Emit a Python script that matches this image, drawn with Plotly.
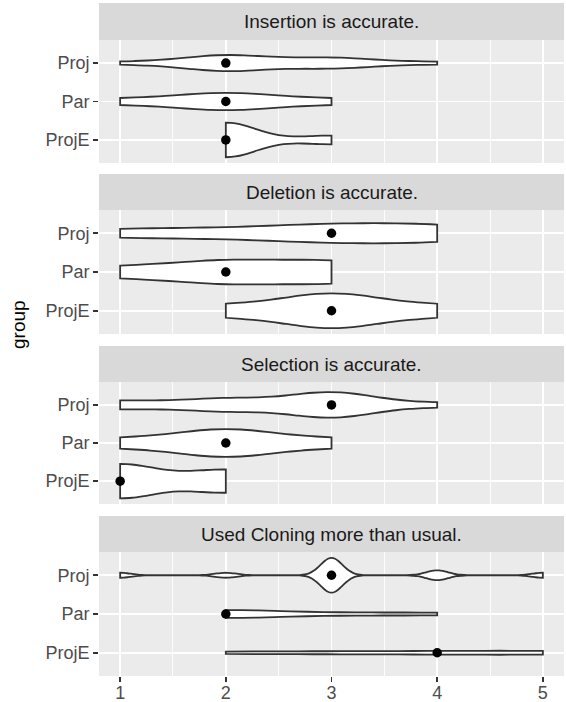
import numpy as np
import plotly.graph_objects as go

# ---------------- data ----------------
questions = [
    "Insertion is accurate.",
    "Deletion is accurate.",
    "Selection is accurate.",
    "Used Cloning more than usual.",
]
groups = ["Proj", "Par", "ProjE"]
levels = [1, 2, 3, 4, 5]
# number of responses at each Likert level (1..5), one row per question
proj_counts = [[1, 6, 4, 1, 0], [2, 2, 4, 4, 0], [2, 3, 6, 1, 0], [1, 1, 7, 2, 1]]
par_counts = [[1, 3, 1, 0, 0], [1, 2, 2, 0, 0], [1, 3, 1, 0, 0], [0, 3, 1, 1, 0]]
proje_counts = [[0, 4, 1, 0, 0], [0, 1, 3, 1, 0], [3, 2, 0, 0, 0], [0, 1, 1, 1, 2]]
x_ticks = [1, 2, 3, 4, 5]

counts_by_group = {"Proj": proj_counts, "Par": par_counts, "ProjE": proje_counts}


def expand(counts):
    return np.repeat(np.array(levels, dtype=float), counts)


def bw_nrd0(x):
    hi = np.std(x, ddof=1)
    q75, q25 = np.percentile(x, [75, 25])
    lo = min(hi, (q75 - q25) / 1.34)
    if not lo:
        lo = hi or abs(x[0]) or 1.0
    return 0.9 * lo * len(x) ** -0.2


# ---------------- layout geometry (pixels) ----------------
W, H = 566, 702
px_left, px_right = 99, 564
panels = [(40, 163), (210, 334), (382, 504), (552, 676)]
strips = [(3, 40), (174, 210), (346, 382), (516, 552)]


def fx(p):
    return p / W


def fy(p):
    return 1 - p / H


FONT = "Liberation Sans, Arial, Helvetica, sans-serif"
fig = go.Figure()

for i, q in enumerate(questions):
    xa = "x" if i == 0 else f"x{i+1}"
    ya = "y" if i == 0 else f"y{i+1}"
    for g in groups:
        vals = expand(counts_by_group[g][i])
        fig.add_trace(go.Violin(
            x=vals, y=[g] * len(vals), orientation="h",
            xaxis=xa, yaxis=ya,
            spanmode="hard", bandwidth=bw_nrd0(vals),
            scalemode="width", scalegroup=f"panel{i}",
            fillcolor="white", line=dict(color="#333333", width=1.8),
            points=False, box_visible=False, meanline_visible=False,
            showlegend=False, hoverinfo="skip",
        ))
    for g in groups:
        vals = expand(counts_by_group[g][i])
        fig.add_trace(go.Scatter(
            x=[float(np.median(vals))], y=[g], mode="markers",
            xaxis=xa, yaxis=ya,
            marker=dict(color="black", size=9.5, line=dict(width=0)),
            showlegend=False, hoverinfo="skip",
        ))

layout = dict(
    width=W, height=H,
    margin=dict(l=0, r=0, t=0, b=0),
    paper_bgcolor="white", plot_bgcolor="#EBEBEB",
    violinmode="overlay", violingap=0.1, violingroupgap=0,
    font=dict(family=FONT, size=18, color="#4D4D4D"),
    shapes=[], annotations=[],
)

for i, (top, bot) in enumerate(panels):
    sx = "" if i == 0 else str(i + 1)
    last = i == len(panels) - 1
    layout[f"xaxis{sx}"] = dict(
        domain=[fx(px_left), fx(px_right)], range=[0.8, 5.2],
        anchor=f"y{sx}", tickvals=x_ticks,
        showgrid=True, gridcolor="white", gridwidth=1.8,
        minor=dict(tickvals=[1.5, 2.5, 3.5, 4.5], showgrid=True,
                   gridcolor="white", gridwidth=0.9),
        zeroline=False, showline=False,
        showticklabels=last, ticks="outside" if last else "",
        ticklen=5, tickwidth=1.6, tickcolor="#333333",
        ticklabelstandoff=-5,
        tickfont=dict(family=FONT, size=18, color="#4D4D4D"),
        automargin=False, fixedrange=True,
    )
    layout[f"yaxis{sx}"] = dict(
        domain=[fy(bot), fy(top)], anchor=f"x{sx}",
        type="category", categoryorder="array",
        categoryarray=groups[::-1], range=[-0.6, 2.6],
        showgrid=True, gridcolor="white", gridwidth=1.8,
        zeroline=False, showline=False,
        ticks="outside", ticklen=5, tickwidth=1.6, tickcolor="#333333",
        tickfont=dict(family=FONT, size=18, color="#4D4D4D"),
        automargin=False, fixedrange=True,
    )

for i, (top, bot) in enumerate(strips):
    layout["shapes"].append(dict(
        type="rect", xref="paper", yref="paper",
        x0=fx(px_left), x1=fx(px_right), y0=fy(bot), y1=fy(top),
        fillcolor="#D9D9D9", line=dict(width=0), layer="below",
    ))
    layout["annotations"].append(dict(
        text=questions[i], xref="paper", yref="paper",
        x=fx((px_left + px_right) / 2), y=fy((top + bot) / 2),
        xanchor="center", yanchor="middle", showarrow=False,
        font=dict(family=FONT, size=19, color="#1A1A1A"),
    ))

layout["annotations"].append(dict(
    text="group", xref="paper", yref="paper",
    x=fx(18), y=fy(325), xanchor="center", yanchor="middle",
    textangle=-90, showarrow=False,
    font=dict(family=FONT, size=19, color="black"),
))

fig.update_layout(**layout)
fig.write_html(
    "out.html",
    config={"displayModeBar": False, "staticPlot": True},
    post_script="document.body.style.margin='0';document.body.style.overflow='hidden';",
)
